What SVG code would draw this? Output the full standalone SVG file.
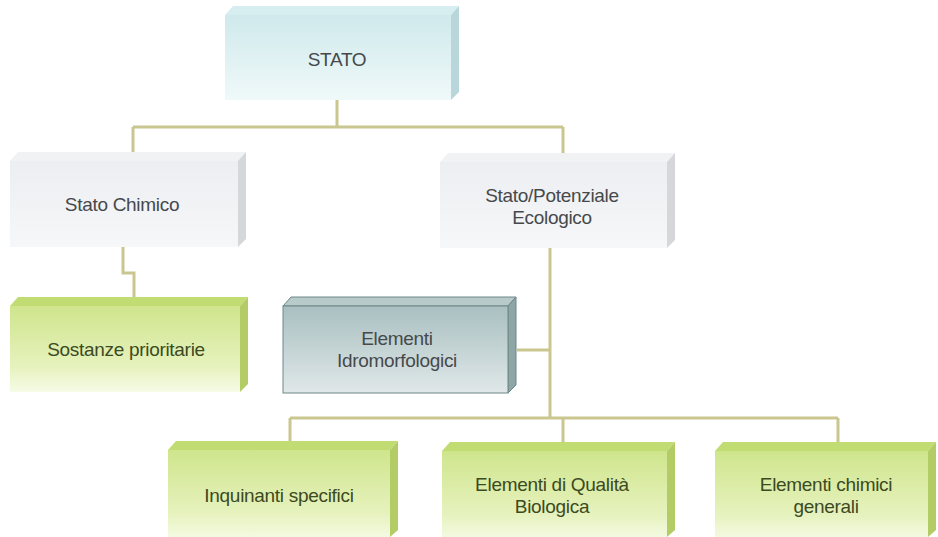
<svg xmlns="http://www.w3.org/2000/svg" width="938" height="537" viewBox="0 0 938 537">
<defs>
<linearGradient id="gCyan" x1="0" y1="0" x2="0" y2="1"><stop offset="0" stop-color="#cfe9ec"/><stop offset="1" stop-color="#f0f9f9"/></linearGradient>
<linearGradient id="gGray" x1="0" y1="0" x2="0" y2="1"><stop offset="0" stop-color="#eceef1"/><stop offset="1" stop-color="#f6f7f9"/></linearGradient>
<linearGradient id="gGreen" x1="0" y1="0" x2="0" y2="1"><stop offset="0" stop-color="#cfe58c"/><stop offset="0.7" stop-color="#e6f2bd"/><stop offset="1" stop-color="#f6fbe6"/></linearGradient>
<linearGradient id="gTeal" x1="0" y1="0" x2="0" y2="1"><stop offset="0" stop-color="#a9bfc1"/><stop offset="1" stop-color="#e0e8e8"/></linearGradient>
</defs>
<style>
.conn{fill:none;stroke:#c9c68f;stroke-width:3}
text{font-family:"Liberation Sans",Arial,sans-serif;font-size:19px;text-anchor:middle;letter-spacing:-0.3px}
.t{fill:#46494b}
.tg{fill:#3c4a22}
.cyanF{fill:url(#gCyan)}.cyanT{fill:#d6eef0}.cyanS{fill:#b9d7da}
.grayF{fill:url(#gGray)}.grayT{fill:#f1f2f4}.grayS{fill:#d5d7da}
.greenF{fill:url(#gGreen)}.greenT{fill:#c2dc74}.greenS{fill:#b3cc66}
.tealF{fill:url(#gTeal);stroke:#6e8788;stroke-width:1}.tealT{fill:#b9cacb;stroke:#6e8788;stroke-width:1}.tealS{fill:#8fa6a7;stroke:#6e8788;stroke-width:1}
</style>
<rect width="938" height="537" fill="#ffffff"/>
<g id="connectors">
<path class="conn" d="M337,100 V127 M133,127 H563 M133,127 V161 M563,127 V162"/>
<path class="conn" d="M123,247 V273 H134 V306"/>
<path class="conn" d="M550,248 V418 M517,350 H550 M290,418 H838 M290,418 V450 M563,418 V451 M838,418 V451"/>
</g>
<g id="stato">
<polygon class="cyanT" points="225,15 233,6 459,6 451,15"/>
<polygon class="cyanS" points="451,15 459,6 459,92 451,100"/>
<rect class="cyanF" x="225" y="15" width="226" height="85"/>
<text class="t" x="337" y="66">STATO</text>
</g>
<g id="stato-chimico">
<polygon class="grayT" points="10,161 18,152 246,152 238,161"/>
<polygon class="grayS" points="238,161 246,152 246,239 238,247"/>
<rect class="grayF" x="10" y="161" width="228" height="86"/>
<text class="t" x="122" y="211">Stato Chimico</text>
</g>
<g id="sostanze-prioritarie">
<polygon class="greenT" points="10,306 18,297 248,297 240,306"/>
<polygon class="greenS" points="240,306 248,297 248,384 240,392"/>
<rect class="greenF" x="10" y="306" width="230" height="86"/>
<text class="tg" x="126" y="356">Sostanze prioritarie</text>
</g>
<g id="stato-potenziale">
<polygon class="grayT" points="440,162 448,153 675,153 667,162"/>
<polygon class="grayS" points="667,162 675,153 675,240 667,248"/>
<rect class="grayF" x="440" y="162" width="227" height="86"/>
<text class="t" x="552" y="202">Stato/Potenziale</text>
<text class="t" x="552" y="224">Ecologico</text>
</g>
<g id="elementi-idromorfologici">
<polygon class="tealT" points="283,306 291,297 516,297 508,306"/>
<polygon class="tealS" points="508,306 516,297 516,385 508,393"/>
<rect class="tealF" x="283" y="306" width="225" height="87"/>
<text class="t" x="397" y="345">Elementi</text>
<text class="t" x="397" y="367">Idromorfologici</text>
</g>
<g id="inquinanti-specifici">
<polygon class="greenT" points="168,450 176,441 398,441 390,450"/>
<polygon class="greenS" points="390,450 398,441 398,530 390,537"/>
<rect class="greenF" x="168" y="450" width="222" height="90"/>
<text class="tg" x="279" y="502">Inquinanti  specifici</text>
</g>
<g id="elementi-qualita-biologica">
<polygon class="greenT" points="442,451 450,442 675,442 667,451"/>
<polygon class="greenS" points="667,451 675,442 675,530 667,537"/>
<rect class="greenF" x="442" y="451" width="225" height="90"/>
<text class="tg" x="552" y="491">Elementi di Qualità</text>
<text class="tg" x="552" y="513">Biologica</text>
</g>
<g id="elementi-chimici-generali">
<polygon class="greenT" points="715,451 723,442 936,442 928,451"/>
<polygon class="greenS" points="928,451 936,442 936,530 928,537"/>
<rect class="greenF" x="715" y="451" width="213" height="90"/>
<text class="tg" x="826" y="491">Elementi chimici</text>
<text class="tg" x="826" y="513">generali</text>
</g>
</svg>
